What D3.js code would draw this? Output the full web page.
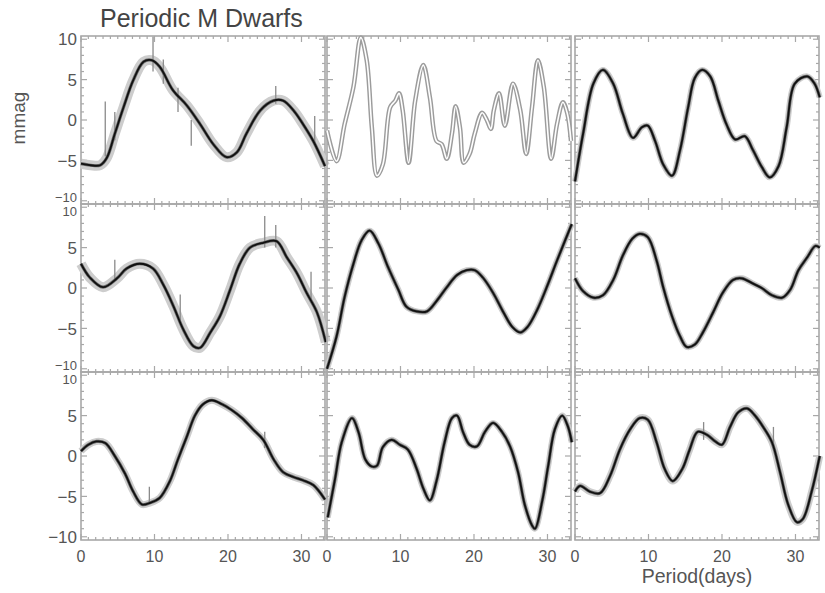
<!DOCTYPE html>
<html>
<head>
<meta charset="utf-8">
<script src="https://cdn.jsdelivr.net/npm/d3@7"></script>
<style>
  body { margin: 0; background: #fff; }
  text { font-family: "Liberation Sans", Arial, sans-serif; }
</style>
</head>
<body>
<div id="chart-container"></div>
<script>
const width = 825;
const height = 593;

// panel grid
const colLeft = [81, 327, 575];
const rowTop = [36, 204, 372];
const panelW = 244;
const panelH = 168;

const xTicks = [0, 10, 20, 30];
const yTicks = [10, 5, 0, -5, -10];

// light curves, [period day, mmag]
const tl = [[0,-5.4],[1.3,-5.6],[2.6,-5.6],[3.5,-4.7],[4.6,-1.7],[5.8,1.6],[7.1,4.9],[8.5,7.2],[9.6,7.4],[10.7,6.6],
  [12.5,3.7],[14.4,1.8],[16.2,-0.5],[18,-3],[19.8,-4.6],[21.2,-4],[22.5,-1.7],[24.4,1.2],[26.2,2.4],[27.5,2.4],
  [28.9,1.2],[30.2,-0.5],[31.6,-2.6],[33.2,-5.7]];
const tm = [[0,-1.3],[1.3,-5.1],[2.4,-0.5],[3.6,4.1],[4.6,10.2],[5.4,7.4],[6.1,-0.9],[6.8,-6.9],[7.6,-5.5],[8.6,1.6],
  [9.3,2.4],[9.8,3.3],[10.3,1.2],[11.1,-5.3],[12,2.4],[13.1,6.8],[14,2.8],[14.9,-2.6],[15.6,-3],[16.3,-4.8],
  [17,-1.7],[17.5,1.7],[18.1,-1],[18.6,-5.3],[19.4,-4.2],[20.1,-1.7],[21.1,0.9],[21.8,-0.1],[22.3,-1.1],[22.7,1.2],
  [23.4,3.3],[24.2,-0.7],[25.3,4.5],[26.3,1.2],[27.1,-4.2],[27.9,1.6],[28.7,7.4],[29.5,4.1],[30.5,-4.8],[31.3,-0.5],
  [32.1,2.2],[32.7,0.8],[33.2,-2.6]];
const tr = [[0,-7.6],[1.1,-1.7],[2.5,4.5],[3.8,6.2],[5.2,4.5],[6.5,0.8],[7.9,-2.2],[9.1,-0.9],[9.9,-0.7],[10.9,-2.6],
  [12,-5.5],[13.2,-6.9],[14.3,-3.7],[15.4,1.6],[16.3,5.2],[17.3,6.2],[18.4,5.4],[19.5,2.4],[20.6,-0.5],[21.8,-2.4],
  [23.1,-2],[24.2,-3.7],[25.4,-5.8],[26.5,-7.1],[27.7,-5.7],[28.8,-0.9],[29.9,4.5],[31.6,5.4],[32.6,4.5],[33.3,2.8]];
const ml = [[0,3],[1.2,1.3],[3,0.1],[4.9,1.2],[6.2,2.4],[8,3],[9.8,2.4],[11.2,0.4],[12.6,-2.3],[13.9,-5.1],
  [15.3,-7.2],[16.2,-7.4],[17.6,-5.5],[18.9,-3.5],[20.3,-0.2],[21.6,3],[23,5],[24.8,5.6],[26.6,5.8],[28,3.8],
  [29.4,1.8],[30.7,-0.6],[32.1,-3],[33.3,-6.7]];
const mm = [[0,-10],[1.3,-6],[2.4,-1.1],[3.6,3],[4.7,5.9],[5.8,7.1],[7,5.5],[8.3,2.6],[9.7,-0.2],[10.8,-2.3],
  [12.2,-2.9],[13.6,-2.9],[15,-1.5],[16.3,0.1],[17.7,1.6],[19,2.2],[20.1,2.2],[21.2,1.3],[22.6,-0.6],[24,-3],
  [25.2,-4.8],[26.3,-5.5],[27.3,-4.8],[28.6,-2.7],[29.9,0.1],[31.3,3.4],[32.4,5.9],[33.3,7.9]];
const mr = [[0,1.2],[1.1,-0.4],[2.5,-1.2],[3.8,-0.9],[5.2,1],[6.5,4],[7.8,6.1],[8.8,6.7],[9.9,6.3],[11.1,3.4],
  [12,0.1],[13.2,-3.5],[14.3,-6],[15.2,-7.3],[16.3,-7],[17.4,-5.5],[18.8,-3],[20.1,-0.6],[21.5,1],[22.7,1.2],
  [24.1,0.6],[25.4,0],[26.8,-0.9],[28.2,-1.2],[29.3,-0.2],[30.4,2.2],[31.6,3.8],[32.7,5.2],[33.3,5]];
const bl = [[0,0.6],[1,1.4],[2.1,1.8],[3.3,1.6],[4.6,0],[6,-2.2],[7.1,-4.4],[8.3,-6],[9.4,-5.8],[10.7,-5.2],
  [12.1,-3.1],[13.2,-0.4],[14.4,2.4],[15.5,5],[16.6,6.4],[17.8,6.9],[19.2,6.4],[20.5,5.7],[21.9,4.7],[23.4,3.3],
  [24.8,2],[26.2,-0.4],[27.5,-2],[28.9,-2.6],[30.2,-3],[31.6,-3.6],[33.2,-5.4]];
const bm = [[0.1,-7.6],[1.1,-2.8],[2,1.7],[3.4,4.7],[4.3,2.9],[5.2,-0.4],[6.1,-1.3],[6.8,-1.2],[7.6,1.1],[8.8,2],
  [9.9,1.4],[11,0.8],[12.2,-1.6],[13.1,-4],[14,-5.5],[14.9,-3.1],[16,1.7],[17,4.7],[17.7,5],[18.5,3],
  [19.4,1.4],[20.4,1.2],[21.5,3],[22.6,4.1],[23.8,3],[24.9,1.2],[26,-2],[26.9,-6],[27.9,-8.6],[28.3,-9],
  [29.3,-5.5],[30.1,-1.2],[31,3.3],[32,5],[32.8,3.6],[33.3,1.7]];
const br = [[0,-4.4],[0.7,-3.7],[2,-4.4],[3.4,-4.6],[4.8,-2.4],[6.1,0.8],[7.5,3.3],[8.8,4.7],[9.9,4.5],[11.1,1.7],
  [12.2,-1.6],[13.3,-3.1],[14.6,-1.6],[15.6,0.8],[16.7,3],[18,2.6],[19.1,1.8],[20,1.4],[21.1,3.6],[22.2,5.4],
  [23.4,5.9],[24.5,5],[25.6,3.6],[26.8,1.7],[27.9,-2],[29,-6],[30.2,-8.2],[31,-7.8],[32.2,-4.4],[33.3,0]];

// outlier spikes, [day, from, to]
const spikesTL = [[3.3,-4.5,2.3],[4.6,-2.5,1],[9.8,6,10.3],[11.2,4.5,7.5],[13.2,1,4],[15,0,-3.2],[26.5,2,4.2],[31.8,-3,0.5]];
const spikesML = [[4.6,1,3.5],[13.5,-4,-0.8],[25,5,8.9],[26.5,5,7.8],[31.3,-1.5,2]];
const spikesBL = [[9.3,-5.8,-3.8],[25,1,3]];
const spikesBR = [[17.5,2,4.2],[27,1,3.6]];

const panels = [
  {row: 0, col: 0, data: tl, spikes: spikesTL, halo: 10},
  {row: 0, col: 1, data: tm, spikes: [], hollow: true},
  {row: 0, col: 2, data: tr, spikes: [], halo: 6},
  {row: 1, col: 0, data: ml, spikes: spikesML, halo: 10},
  {row: 1, col: 1, data: mm, spikes: [], halo: 6},
  {row: 1, col: 2, data: mr, spikes: [], halo: 6},
  {row: 2, col: 0, data: bl, spikes: spikesBL, halo: 7},
  {row: 2, col: 1, data: bm, spikes: [], halo: 6},
  {row: 2, col: 2, data: br, spikes: spikesBR, halo: 7}
];

const svg = d3.select("#chart-container")
    .append("svg")
    .attr("width", width)
    .attr("height", height)
    .style("background-color", "#ffffff");

const frameColor = "#a8a8a8";
const labelColor = "#555";

panels.forEach(p => {
    const x0 = colLeft[p.col], y0 = rowTop[p.row];
    const x = d3.scaleLinear().domain([0, 33.2]).range([x0, x0 + panelW]);
    const y = d3.scaleLinear().domain([-10.4, 10.4]).range([y0 + panelH, y0]);
    const g = svg.append("g");

    // frame with minor ticks
    g.append("rect")
        .attr("x", x0).attr("y", y0)
        .attr("width", panelW).attr("height", panelH)
        .attr("fill", "none").attr("stroke", frameColor).attr("stroke-width", 1.6);

    const minorX = d3.range(0, 34, 1);
    const minorY = d3.range(-10, 11, 1);
    [[y0, 1], [y0 + panelH, -1]].forEach(([yy, dir]) => {
        g.selectAll(null).data(minorX).join("line")
            .attr("x1", d => x(d)).attr("x2", d => x(d))
            .attr("y1", yy).attr("y2", d => yy + dir * (d % 10 === 0 ? 6 : 3))
            .attr("stroke", frameColor).attr("stroke-width", 1.2);
    });
    [[x0, 1], [x0 + panelW, -1]].forEach(([xx, dir]) => {
        g.selectAll(null).data(minorY).join("line")
            .attr("y1", d => y(d)).attr("y2", d => y(d))
            .attr("x1", xx).attr("x2", d => xx + dir * (d % 5 === 0 ? 6 : 3))
            .attr("stroke", frameColor).attr("stroke-width", 1.2);
    });

    const line = d3.line()
        .x(d => x(d[0])).y(d => y(d[1]))
        .curve(d3.curveCatmullRom.alpha(0.5));

    if (p.hollow) {
        g.append("path").attr("d", line(p.data))
            .attr("fill", "none").attr("stroke", "#9c9c9c").attr("stroke-width", 4.5);
        g.append("path").attr("d", line(p.data))
            .attr("fill", "none").attr("stroke", "#fff").attr("stroke-width", 1.6);
    } else {
        g.append("path").attr("d", line(p.data))
            .attr("fill", "none").attr("stroke", "#cdcdcd").attr("stroke-width", p.halo)
            .attr("stroke-linejoin", "round");
        g.selectAll(null).data(p.spikes).join("line")
            .attr("x1", d => x(d[0])).attr("x2", d => x(d[0]))
            .attr("y1", d => y(d[1])).attr("y2", d => y(d[2]))
            .attr("stroke", "#8a8a8a").attr("stroke-width", 1.3);
        g.append("path").attr("d", line(p.data))
            .attr("fill", "none").attr("stroke", "#6a6a6a").attr("stroke-width", 3.2)
            .attr("stroke-linejoin", "round");
        g.append("path").attr("d", line(p.data))
            .attr("fill", "none").attr("stroke", "#111").attr("stroke-width", 1.8)
            .attr("stroke-linejoin", "round");
    }

    // y labels on the first column; labels at inner row seams nudged apart
    if (p.col === 0) {
        g.selectAll(null).data(yTicks).join("text")
            .attr("x", x0 - 4)
            .attr("y", d => {
                if (d === -10 && p.row < 2) return y(d) - 3;
                if (d === 10 && p.row > 0) return y(d) + 4;
                return y(d);
            })
            .attr("dy", "0.36em")
            .attr("text-anchor", "end")
            .attr("font-size", d => (d === -10 && p.row < 2) || (d === 10 && p.row > 0) ? 13 : 17)
            .attr("fill", labelColor)
            .text(d => d < 0 ? "\u2212" + Math.abs(d) : d);
    }
    // x labels on the bottom row
    if (p.row === 2) {
        g.selectAll(null).data(xTicks).join("text")
            .attr("x", d => x(d)).attr("y", y0 + panelH + 22)
            .attr("text-anchor", "middle")
            .attr("font-size", 16).attr("fill", labelColor)
            .text(d => d);
    }
});

svg.append("text")
    .attr("x", 100).attr("y", 27)
    .attr("font-size", 25).attr("fill", "#444")
    .text("Periodic M Dwarfs");

svg.append("text")
    .attr("transform", `translate(25, 118) rotate(-90)`)
    .attr("text-anchor", "middle")
    .attr("font-size", 19).attr("fill", labelColor)
    .text("mmag");

svg.append("text")
    .attr("x", 697).attr("y", 583)
    .attr("text-anchor", "middle")
    .attr("font-size", 19.5).attr("fill", labelColor)
    .text("Period(days)");
</script>
</body>
</html>
